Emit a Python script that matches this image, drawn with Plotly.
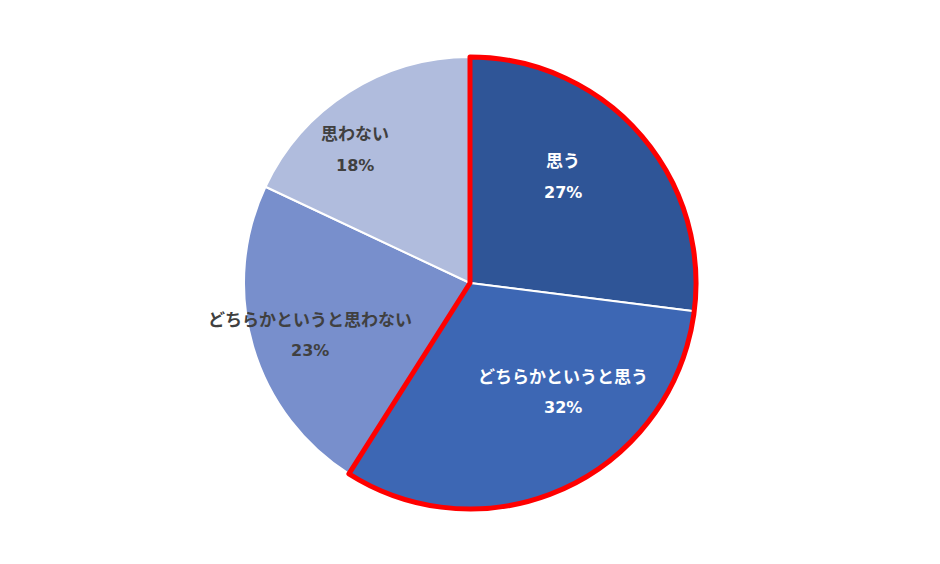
import plotly.graph_objects as go

labels = ["思う", "どちらかというと思う", "どちらかというと思わない", "思わない"]
values = [27, 32, 23, 18]
colors = ["#2F5597", "#3D67B4", "#788FCC", "#B0BCDD"]
text_colors = ["white", "white", "#404040", "#404040"]

# highlighted group (first two slices) outlined in red
group_values = [sum(values[:2]), sum(values[2:])]

W, H = 940, 564
OFF = 8  # page body margin
cx, cy, R = 470 - OFF, 283 - OFF, 226
dom_x = [(cx - R) / W, (cx + R) / W]
dom_y = [1 - (cy + R) / H, 1 - (cy - R) / H]

fig = go.Figure()
fig.add_trace(go.Pie(
    labels=labels, values=values, sort=False, direction="clockwise", rotation=0,
    marker=dict(colors=colors, line=dict(color="white", width=2)),
    textinfo="none", hoverinfo="label+percent", showlegend=False,
    domain=dict(x=dom_x, y=dom_y),
))
fig.add_trace(go.Pie(
    labels=["group_a", "group_b"], values=group_values, sort=False,
    direction="clockwise", rotation=0,
    marker=dict(colors=["rgba(0,0,0,0)", "rgba(0,0,0,0)"],
                line=dict(color=["#FF0000", "rgba(0,0,0,0)"], width=[5, 0])),
    textinfo="none", hoverinfo="skip", showlegend=False,
    domain=dict(x=dom_x, y=dom_y),
))

# label line centres (pixel positions): name, percent
name_pos = [(563, 160), (563, 375), (310, 318), (355, 133)]
pct_pos = [(563, 192), (563, 407), (310, 350), (355, 165)]
total = sum(values)
for lab, v, tc, (nx, ny), (qx, qy) in zip(labels, values, text_colors, name_pos, pct_pos):
    fig.add_annotation(
        x=(nx - OFF) / W, y=1 - (ny - OFF) / H, xref="paper", yref="paper", showarrow=False,
        text=f"<b>{lab}</b>",
        font=dict(family="Noto Sans CJK JP", size=17, color=tc),
        xanchor="center", yanchor="middle",
    )
    fig.add_annotation(
        x=(qx - OFF) / W, y=1 - (qy - OFF) / H, xref="paper", yref="paper", showarrow=False,
        text=f"<b>{round(100 * v / total)}%</b>",
        font=dict(family="DejaVu Sans", size=16, color=tc),
        xanchor="center", yanchor="middle",
    )

fig.update_layout(
    width=W, height=H, margin=dict(l=0, r=0, t=0, b=0),
    paper_bgcolor="white", plot_bgcolor="white",
)
fig.write_html("out.html")
